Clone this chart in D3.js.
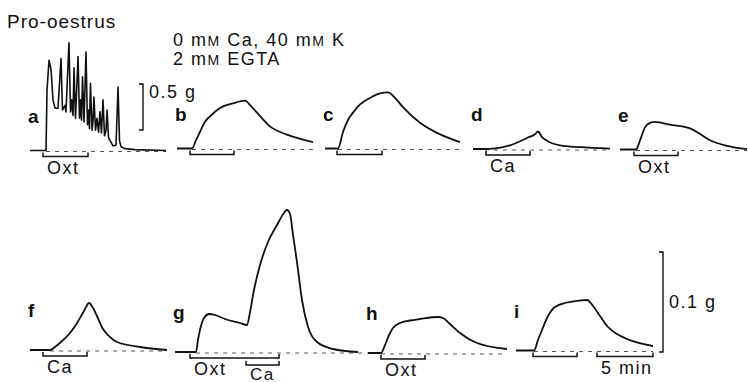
<!DOCTYPE html>
<html>
<head>
<meta charset="utf-8">
<script src="https://cdn.jsdelivr.net/npm/d3@7/dist/d3.min.js"></script>
<style>
  body { margin: 0; background: #fff; }
  text { font-family: "Liberation Sans", Arial, sans-serif; fill: #111; }
  .letter { font-weight: bold; }
</style>
</head>
<body>
<div class="chart"></div>
<script>
// Tension records (time in min from start of record, tension in g above baseline)
var traceA = [[0,0],[1.43,0],[1.52,0.66],[1.70,0.98],[1.88,0.88],[2.05,0.55],[2.23,0.46],[2.5,0.46],
  [2.77,1.0],[2.9,0.44],[3.13,0.49],[3.21,0.42],[3.48,1.17],[3.62,0.42],[3.72,0.55],[3.84,0.38],
  [3.93,0.90],[4.06,0.35],[4.29,1.02],[4.42,0.35],[4.51,0.55],[4.6,0.33],[4.69,0.80],[4.82,0.31],
  [5.0,1.07],[5.13,0.28],[5.22,0.44],[5.31,0.24],[5.4,0.73],[5.54,0.22],[5.63,0.33],[5.71,0.58],
  [5.85,0.22],[5.98,0.35],[6.12,0.20],[6.25,0.42],[6.38,0.19],[6.52,0.55],[6.65,0.16],[6.79,0.22],
  [6.88,0.44],[7.01,0.14],[7.23,0.09],[7.41,0.05],[7.68,0.06],[7.86,0.69],[7.99,0.11],[8.13,0.04],
  [8.48,0.02],[9.38,0.01],[12.14,0]];
var traceB = [[0,0],[1.34,0],[1.70,0.09],[2.05,0.18],[2.5,0.29],[2.95,0.35],[3.84,0.44],[5.0,0.49],
  [6.07,0.52],[6.61,0.46],[7.14,0.39],[8.3,0.24],[9.82,0.15],[12.14,0.07]];
var traceC = [[0,0],[1.16,0],[1.61,0.18],[2.05,0.31],[2.5,0.39],[3.13,0.48],[4.02,0.55],[4.91,0.60],
  [5.63,0.61],[6.25,0.55],[6.96,0.45],[8.48,0.28],[10.0,0.17],[12.05,0.07]];
var traceD = [[0,0],[1.07,0],[1.79,0.005],[3.3,0.04],[4.82,0.12],[5.54,0.16],[5.8,0.19],[6.16,0.13],
  [6.61,0.09],[7.77,0.04],[9.55,0.02],[12.23,0.005]];
var traceE = [[0,0],[1.43,0],[1.79,0.10],[2.23,0.24],[2.68,0.29],[3.13,0.30],[4.46,0.27],[6.25,0.23],
  [7.14,0.17],[8.04,0.10],[9.55,0.04],[11.34,0.005]];
var traceF = [[0,0],[1.79,0],[2.23,0.003],[2.86,0.009],[3.57,0.017],[4.2,0.027],[4.82,0.039],[5.27,0.047],
  [5.63,0.042],[5.98,0.034],[6.52,0.021],[7.14,0.013],[7.77,0.008],[9.82,0.003],[12.23,0]];
var traceG = [[0,0],[1.88,0],[2.05,0.012],[2.23,0.022],[2.59,0.034],[3.04,0.038],[3.57,0.037],[4.46,0.033],
  [5.8,0.029],[6.43,0.027],[6.7,0.040],[7.05,0.062],[7.59,0.087],[8.3,0.110],[9.11,0.127],[9.73,0.139],
  [10.0,0.142],[10.27,0.138],[10.54,0.117],[10.89,0.090],[11.34,0.052],[11.88,0.025],[12.68,0.010],
  [14.11,0.003],[16.34,0]];
var traceH = [[0,0],[1.16,0],[1.52,0.008],[1.88,0.018],[2.23,0.025],[2.86,0.030],[3.75,0.0325],[4.64,0.034],
  [6.25,0.036],[6.7,0.035],[7.32,0.029],[8.21,0.020],[9.73,0.010],[12.41,0.004]];
var traceI = [[0,0],[1.61,0],[1.96,0.0105],[2.32,0.0205],[2.86,0.0345],[3.48,0.0435],[4.55,0.048],
  [5.71,0.050],[6.34,0.0505],[6.88,0.0445],[7.5,0.0345],[8.13,0.0245],[9.02,0.0165],[9.91,0.0115],[12.23,0.0045]];

// application periods (min), level 1 = second bracket row
var appsA = [{label: "Oxt", from: 1.16, to: 5.18, level: 0}];
var appsB = [{label: "", from: 1.16, to: 5.09, level: 0}];
var appsC = [{label: "", from: 1.07, to: 5.09, level: 0}];
var appsD = [{label: "Ca", from: 1.16, to: 5.09, level: 0}];
var appsE = [{label: "Oxt", from: 1.25, to: 5.18, level: 0}];
var appsF = [{label: "Ca", from: 1.16, to: 5.09, level: 0}];
var appsG = [{label: "Oxt", from: 1.34, to: 9.29, level: 0}, {label: "Ca", from: 6.34, to: 9.29, level: 1}];
var appsH = [{label: "Oxt", from: 1.16, to: 5.09, level: 0}];
var appsI = [{label: "", from: 1.52, to: 5.45, level: 0}, {label: "5 min", from: 7.23, to: 12.23, level: 0}];

var dashEnd = {g: 17.4};
var tensionBars = [{row: "top", value: 0.5, label: "0.5 g"}, {row: "bottom", value: 0.1, label: "0.1 g"}];

var svgWidth = 748;
var svgHeight = 382;
var pxPerMin = 11.2;

var svg = d3.select(".chart")
  .append("svg")
  .attr("width", svgWidth)
  .attr("height", svgHeight);

// rows: px per gram and letter offset
var rows = {
  top: {pxPerG: 92, letterDy: -28},
  bottom: {pxPerG: 1000, letterDy: -33}
};

var panels = [
  {id: "a", row: "top", left: 30, base: 150.5, trace: traceA, apps: appsA, curve: d3.curveLinear},
  {id: "b", row: "top", left: 177, base: 148.5, trace: traceB, apps: appsB},
  {id: "c", row: "top", left: 325, base: 148.5, trace: traceC, apps: appsC},
  {id: "d", row: "top", left: 473, base: 149, trace: traceD, apps: appsD},
  {id: "e", row: "top", left: 620, base: 149.5, trace: traceE, apps: appsE},
  {id: "f", row: "bottom", left: 30, base: 350, trace: traceF, apps: appsF},
  {id: "g", row: "bottom", left: 175, base: 352, trace: traceG, apps: appsG},
  {id: "h", row: "bottom", left: 368, base: 353, trace: traceH, apps: appsH},
  {id: "i", row: "bottom", left: 516, base: 350.5, trace: traceI, apps: appsI}
];

panels.forEach(function(p) {
  var r = rows[p.row];
  var x = d3.scaleLinear().domain([0, 10]).range([p.left, p.left + 10 * pxPerMin]);
  var y = d3.scaleLinear().domain([0, 1]).range([p.base, p.base - r.pxPerG]);
  var g = svg.append("g");

  // dashed baseline
  var dStart = p.trace[1][0];
  var dStop = dashEnd[p.id] || p.trace[p.trace.length - 1][0];
  g.append("line")
    .attr("x1", x(dStart)).attr("x2", x(dStop))
    .attr("y1", y(0) + 1).attr("y2", y(0) + 1)
    .attr("stroke", "#555")
    .attr("stroke-width", 1)
    .attr("stroke-dasharray", "4,5");

  var line = d3.line()
    .x(d => x(d[0]))
    .y(d => y(d[1]))
    .curve(p.curve || d3.curveMonotoneX);

  g.append("path")
    .datum(p.trace)
    .attr("d", line)
    .attr("fill", "none")
    .attr("stroke", "#111")
    .attr("stroke-width", p.id == "a" ? 1.6 : 1.8)
    .attr("stroke-linejoin", "round");

  // brackets under the record
  p.apps.forEach(function(a) {
    var by = y(0) + 6 + a.level * 7;
    g.append("path")
      .attr("d", `M${x(a.from)},${by - 4}V${by}H${x(a.to)}V${by - 4}`)
      .attr("fill", "none")
      .attr("stroke", "#111")
      .attr("stroke-width", 1.5);
    if (a.label) {
      g.append("text")
        .attr("x", x(a.from) + 4)
        .attr("y", Math.min(by + 17, 379.5))
        .attr("font-size", a.level ? "17px" : "18px")
        .attr("letter-spacing", "1.5px")
        .text(a.label);
    }
  });

  g.append("text")
    .attr("class", "letter")
    .attr("x", p.left - 2)
    .attr("y", p.base + r.letterDy)
    .attr("font-size", "19px")
    .text(p.id);
});

// tension calibration bars
var barPos = {top: {x: 143, bottom: 130, labelDy: -9}, bottom: {x: 663, bottom: 352, labelDy: 6}};
tensionBars.forEach(function(b) {
  var pos = barPos[b.row];
  var ys = d3.scaleLinear().domain([0, 1]).range([pos.bottom, pos.bottom - rows[b.row].pxPerG]);
  svg.append("path")
    .attr("d", `M${pos.x - 4},${ys(0)}H${pos.x}V${ys(b.value)}H${pos.x - 4}`)
    .attr("fill", "none")
    .attr("stroke", "#111")
    .attr("stroke-width", 1.4);
  svg.append("text")
    .attr("x", pos.x + 6)
    .attr("y", (ys(0) + ys(b.value)) / 2 + pos.labelDy)
    .attr("font-size", "18px")
    .attr("letter-spacing", "1.5px")
    .text(b.label);
});

// headings
svg.append("text")
  .attr("x", 7).attr("y", 28)
  .attr("font-size", "19px")
  .attr("letter-spacing", "1px")
  .text("Pro-oestrus");

var cond = svg.append("text")
  .attr("x", 173).attr("y", 46)
  .attr("font-size", "18px")
  .attr("letter-spacing", "1.5px");
cond.append("tspan").text("0 m");
cond.append("tspan").attr("font-size", "14px").text("M");
cond.append("tspan").text(" Ca, 40 m");
cond.append("tspan").attr("font-size", "14px").text("M");
cond.append("tspan").text(" K");

var cond2 = svg.append("text")
  .attr("x", 173).attr("y", 65)
  .attr("font-size", "18px")
  .attr("letter-spacing", "1.5px");
cond2.append("tspan").text("2 m");
cond2.append("tspan").attr("font-size", "14px").text("M");
cond2.append("tspan").text(" EGTA");
</script>
</body>
</html>
